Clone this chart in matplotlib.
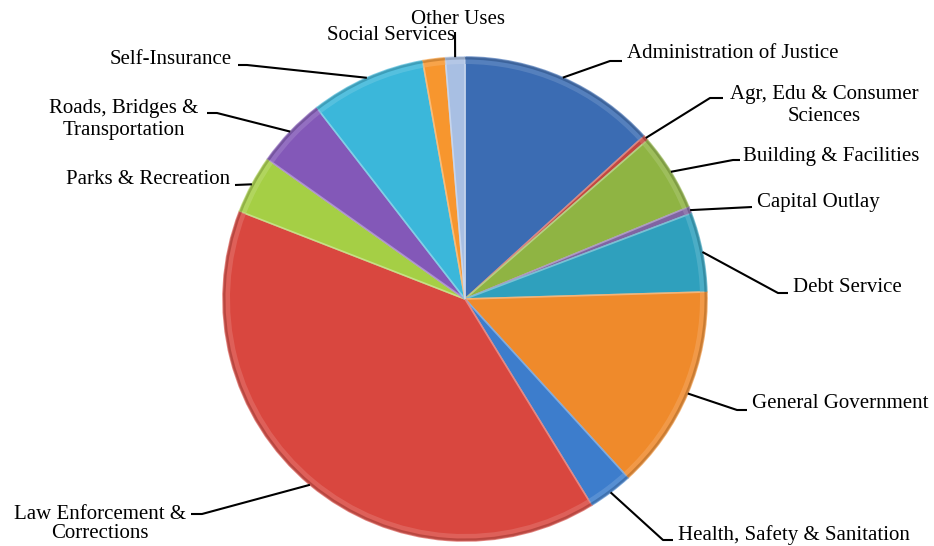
import numpy as np
import matplotlib
matplotlib.use("Agg")
import matplotlib.pyplot as plt
from matplotlib.patches import Wedge
import matplotlib.colors as mcolors

# Budget share by function (percent of total expenditures)
categories = [
    "Administration of Justice",
    "Agr, Edu & Consumer\nSciences",
    "Building & Facilities",
    "Capital Outlay",
    "Debt Service",
    "General Government",
    "Health, Safety & Sanitation",
    "Law Enforcement &\nCorrections",
    "Parks & Recreation",
    "Roads, Bridges &\nTransportation",
    "Self-Insurance",
    "Social Services",
    "Other Uses",
]
shares = [13.25, 0.35, 5.2, 0.45, 5.3, 13.7, 3.0, 39.7, 3.9, 4.7, 7.7, 1.5, 1.3]
colors = [
    "#3b6cb3", "#c4463f", "#8fb443", "#8064a2", "#2fa0bd", "#ef8a2b", "#3d7dcc",
    "#d9473f", "#a5cf45", "#8358b8", "#3bb7da", "#f7962e", "#a8bfe3",
]

W, H = 934, 546
fig = plt.figure(figsize=(W / 100, H / 100), dpi=100)
ax = fig.add_axes([0, 0, 1, 1])
ax.set_xlim(0, W)
ax.set_ylim(0, H)
ax.set_aspect("equal")
ax.axis("off")


def Y(y):
    return H - y


cx, cy, R = 465, Y(299), 242
wedges, _ = ax.pie(shares, colors=colors, startangle=90, counterclock=False,
                   center=(cx, cy), radius=R, frame=True,
                   wedgeprops=dict(linewidth=0))
ax.set_xlim(0, W)
ax.set_ylim(0, H)
ax.axis("off")


def shade(c, f):
    r, g, b = mcolors.to_rgb(c)
    if f > 0:
        return (r + (1 - r) * f, g + (1 - g) * f, b + (1 - b) * f)
    return (r * (1 + f), g * (1 + f), b * (1 + f))


# bevel look: light rim and soft edges on every slice
for w, c in zip(wedges, colors):
    w.set_edgecolor(shade(c, 0.35))
    w.set_linewidth(1.2)
    rim = Wedge((cx, cy), R, w.theta1, w.theta2, width=7,
                facecolor=shade(c, 0.25), edgecolor="none", alpha=0.55, zorder=2)
    ax.add_patch(rim)
    rim2 = Wedge((cx, cy), R, w.theta1, w.theta2, width=2.5,
                 facecolor=shade(c, -0.25), edgecolor="none", alpha=0.6, zorder=2)
    ax.add_patch(rim2)


def anchor(w):
    t = np.deg2rad((w.theta1 + w.theta2) / 2)
    return cx + R * np.cos(t), cy + R * np.sin(t)


# label text placement (x, y, horizontal alignment) and leader elbows
labels = {
    0: (627, 54, "left", [(610, 61), (622, 61)]),
    1: (824, 105.5, "center", [(710, 98), (723, 98)]),
    2: (743, 157, "left", [(733, 160), (740, 160)]),
    3: (757, 202, "left", [(752, 207)]),
    4: (793, 287, "left", [(778, 293), (788, 293)]),
    5: (752, 403, "left", [(737, 410), (747, 410)]),
    6: (678, 535, "left", [(663, 540), (673, 540)]),
    7: (100, 524, "center", [(202, 514), (191, 514)]),
    8: (230, 180, "right", [(235, 185)]),
    9: (124, 119.5, "center", [(217, 113), (207, 113)]),
    10: (171, 60, "center", [(247, 65), (238, 65)]),
    11: (455, 35, "right", None),
    12: (458, 19, "center", [(455, 32)]),
}

font = dict(family=["Liberation Serif", "DejaVu Serif"], fontsize=15, color="black")
for i, (tx, ty, ha, elbow) in labels.items():
    ls = 1.0 if i == 7 else 1.2
    ax.text(tx, Y(ty), categories[i], ha=ha, va="center", multialignment="center",
            linespacing=ls, zorder=5, **font)
    if elbow:
        ax0, ay0 = anchor(wedges[i])
        xs = [ax0] + [p[0] for p in elbow]
        ys = [ay0] + [Y(p[1]) for p in elbow]
        ax.plot(xs, ys, color="black", lw=1.5, zorder=4, solid_capstyle="butt")

fig.savefig("out.png", dpi=100, facecolor="white")
